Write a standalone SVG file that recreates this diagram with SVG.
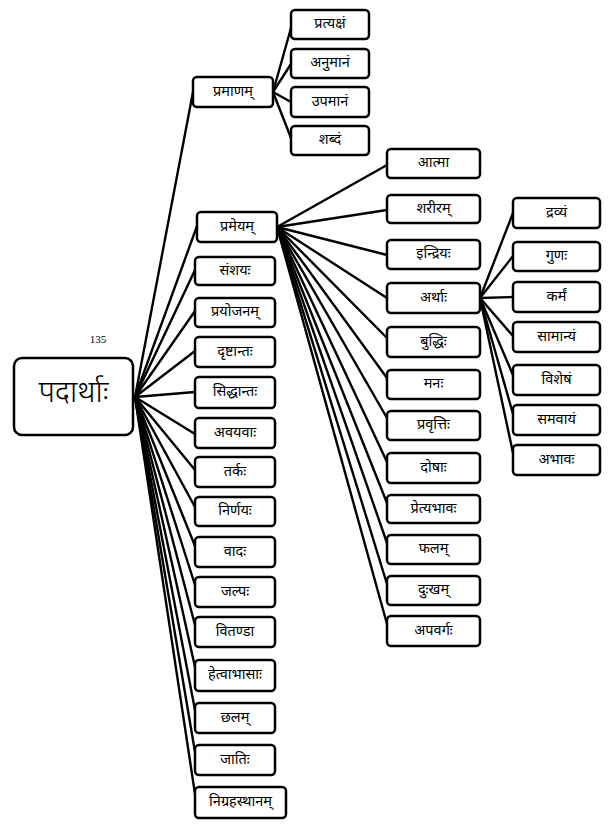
<svg xmlns="http://www.w3.org/2000/svg" width="616" height="828" viewBox="0 0 616 828">
<style>
.b{fill:#fff;stroke:#000;stroke-width:2.5}
.t{font-family:"Noto Sans Devanagari","Lohit Devanagari","Noto Sans","DejaVu Sans",sans-serif;font-size:14.5px;font-weight:400;text-anchor:middle;dominant-baseline:central;fill:#000}
.big{font-size:30px;font-weight:300}
.num{font-family:"Liberation Serif",serif;font-size:11px;fill:#000;text-anchor:middle}
.c path{fill:none;stroke:#000;stroke-width:2.4;stroke-linecap:round}
</style>
<rect width="616" height="828" fill="#fff"/>
<g class="c" id="connectors">
<path d="M135 397 L193 92"/>
<path d="M135 397 L197 226"/>
<path d="M135 397 L195 270"/>
<path d="M135 397 L195 311"/>
<path d="M135 397 L195 351"/>
<path d="M135 397 L195 392"/>
<path d="M135 397 L195 434"/>
<path d="M135 397 L195 470"/>
<path d="M135 397 L195 507"/>
<path d="M135 397 L195 546"/>
<path d="M135 397 L195 585"/>
<path d="M135 397 L195 625"/>
<path d="M135 397 L195 667"/>
<path d="M135 397 L195 710"/>
<path d="M135 397 L195 752"/>
<path d="M135 397 L195 794"/>
<path d="M273 92 L291 28"/>
<path d="M273 92 L291 64"/>
<path d="M273 92 L291 102"/>
<path d="M273 92 L291 138"/>
<path d="M277 227 L387 165"/>
<path d="M277 227 L387 210"/>
<path d="M277 227 L387 255"/>
<path d="M277 227 L387 298"/>
<path d="M277 227 L387 338"/>
<path d="M277 227 L387 378"/>
<path d="M277 227 L387 418"/>
<path d="M277 227 L387 462"/>
<path d="M277 227 L387 503"/>
<path d="M277 227 L387 543"/>
<path d="M277 227 L387 584"/>
<path d="M277 227 L387 624"/>
<path d="M480 298 L513 213"/>
<path d="M480 298 L513 256"/>
<path d="M480 298 L513 297"/>
<path d="M480 298 L513 336"/>
<path d="M480 298 L513 375"/>
<path d="M480 298 L513 414"/>
<path d="M480 298 L513 453"/>
</g>
<text class="num" x="98" y="343">135</text>
<g id="padarthah"><rect class="b" x="14" y="358" width="119" height="77" rx="8"/><text class="t big" x="73.5" y="394">पदार्थाः</text></g>
<g id="pramanam"><rect class="b" x="193" y="77" width="80" height="30" rx="4"/><text class="t" x="233" y="92">प्रमाणम्</text></g>
<g id="pratyaksham"><rect class="b" x="291" y="10" width="78" height="29" rx="4"/><text class="t" x="330" y="24.5">प्रत्यक्षं</text></g>
<g id="anumanam"><rect class="b" x="291" y="49" width="78" height="29" rx="4"/><text class="t" x="330" y="63.5">अनुमानं</text></g>
<g id="upamanam"><rect class="b" x="291" y="87" width="78" height="30" rx="4"/><text class="t" x="330" y="102">उपमानं</text></g>
<g id="shabdam"><rect class="b" x="291" y="126" width="78" height="29" rx="4"/><text class="t" x="330" y="140.5">शब्दं</text></g>
<g id="prameyam"><rect class="b" x="197" y="212" width="80" height="30" rx="4"/><text class="t" x="237" y="227">प्रमेयम्</text></g>
<g id="samshayah"><rect class="b" x="195" y="257" width="80" height="28" rx="4"/><text class="t" x="235" y="271">संशयः</text></g>
<g id="prayojanam"><rect class="b" x="195" y="298" width="80" height="29" rx="4"/><text class="t" x="235" y="312.5">प्रयोजनम्</text></g>
<g id="drishtantah"><rect class="b" x="195" y="337" width="80" height="30" rx="4"/><text class="t" x="235" y="352">दृष्टान्तः</text></g>
<g id="siddhantah"><rect class="b" x="195" y="377" width="80" height="31" rx="4"/><text class="t" x="235" y="392.5">सिद्धान्तः</text></g>
<g id="avayavah"><rect class="b" x="195" y="418" width="80" height="30" rx="4"/><text class="t" x="235" y="433">अवयवाः</text></g>
<g id="tarkah"><rect class="b" x="195" y="457" width="80" height="30" rx="4"/><text class="t" x="235" y="472">तर्कः</text></g>
<g id="nirnayah"><rect class="b" x="195" y="497" width="80" height="29" rx="4"/><text class="t" x="235" y="511.5">निर्णयः</text></g>
<g id="vadah"><rect class="b" x="195" y="537" width="80" height="30" rx="4"/><text class="t" x="235" y="552">वादः</text></g>
<g id="jalpah"><rect class="b" x="195" y="577" width="80" height="30" rx="4"/><text class="t" x="235" y="592">जल्पः</text></g>
<g id="vitanda"><rect class="b" x="195" y="617" width="80" height="30" rx="4"/><text class="t" x="235" y="632">वितण्डा</text></g>
<g id="hetvabhasah"><rect class="b" x="195" y="660" width="80" height="31" rx="4"/><text class="t" x="235" y="675.5">हेत्वाभासाः</text></g>
<g id="chhalam"><rect class="b" x="195" y="703" width="80" height="30" rx="4"/><text class="t" x="235" y="718">छलम्</text></g>
<g id="jatih"><rect class="b" x="195" y="745" width="80" height="30" rx="4"/><text class="t" x="235" y="760">जातिः</text></g>
<g id="nigrahasthanam"><rect class="b" x="195" y="787" width="91" height="31" rx="4"/><text class="t" x="240.5" y="802.5">निग्रहस्थानम्</text></g>
<g id="atma"><rect class="b" x="387" y="149" width="93" height="29" rx="4"/><text class="t" x="433.5" y="163.5">आत्मा</text></g>
<g id="shariram"><rect class="b" x="387" y="195" width="93" height="28" rx="4"/><text class="t" x="433.5" y="209">शरीरम्</text></g>
<g id="indriyah"><rect class="b" x="387" y="240" width="93" height="29" rx="4"/><text class="t" x="433.5" y="254.5">इन्द्रियः</text></g>
<g id="arthah"><rect class="b" x="387" y="283" width="93" height="30" rx="4"/><text class="t" x="433.5" y="298">अर्थाः</text></g>
<g id="buddhih"><rect class="b" x="387" y="327" width="93" height="30" rx="4"/><text class="t" x="433.5" y="342">बुद्धिः</text></g>
<g id="manah"><rect class="b" x="387" y="370" width="93" height="29" rx="4"/><text class="t" x="433.5" y="384.5">मनः</text></g>
<g id="pravrittih"><rect class="b" x="387" y="411" width="93" height="29" rx="4"/><text class="t" x="433.5" y="425.5">प्रवृत्तिः</text></g>
<g id="doshah"><rect class="b" x="387" y="453" width="93" height="30" rx="4"/><text class="t" x="433.5" y="468">दोषाः</text></g>
<g id="pretyabhavah"><rect class="b" x="387" y="495" width="93" height="28" rx="4"/><text class="t" x="433.5" y="509">प्रेत्यभावः</text></g>
<g id="phalam"><rect class="b" x="387" y="535" width="93" height="29" rx="4"/><text class="t" x="433.5" y="549.5">फलम्</text></g>
<g id="duhkham"><rect class="b" x="387" y="576" width="93" height="29" rx="4"/><text class="t" x="433.5" y="590.5">दुःखम्</text></g>
<g id="apavargah"><rect class="b" x="387" y="616" width="93" height="30" rx="4"/><text class="t" x="433.5" y="631">अपवर्गः</text></g>
<g id="dravyam"><rect class="b" x="513" y="198" width="87" height="30" rx="4"/><text class="t" x="556.5" y="213">द्रव्यं</text></g>
<g id="gunah"><rect class="b" x="513" y="242" width="87" height="29" rx="4"/><text class="t" x="556.5" y="256.5">गुणः</text></g>
<g id="karmam"><rect class="b" x="513" y="282" width="87" height="30" rx="4"/><text class="t" x="556.5" y="297">कर्मं</text></g>
<g id="samanyam"><rect class="b" x="513" y="322" width="87" height="30" rx="4"/><text class="t" x="556.5" y="337">सामान्यं</text></g>
<g id="vishesham"><rect class="b" x="513" y="365" width="87" height="30" rx="4"/><text class="t" x="556.5" y="380">विशेषं</text></g>
<g id="samavayam"><rect class="b" x="513" y="405" width="87" height="30" rx="4"/><text class="t" x="556.5" y="420">समवायं</text></g>
<g id="abhavah"><rect class="b" x="513" y="445" width="87" height="30" rx="4"/><text class="t" x="556.5" y="460">अभावः</text></g>
</svg>
